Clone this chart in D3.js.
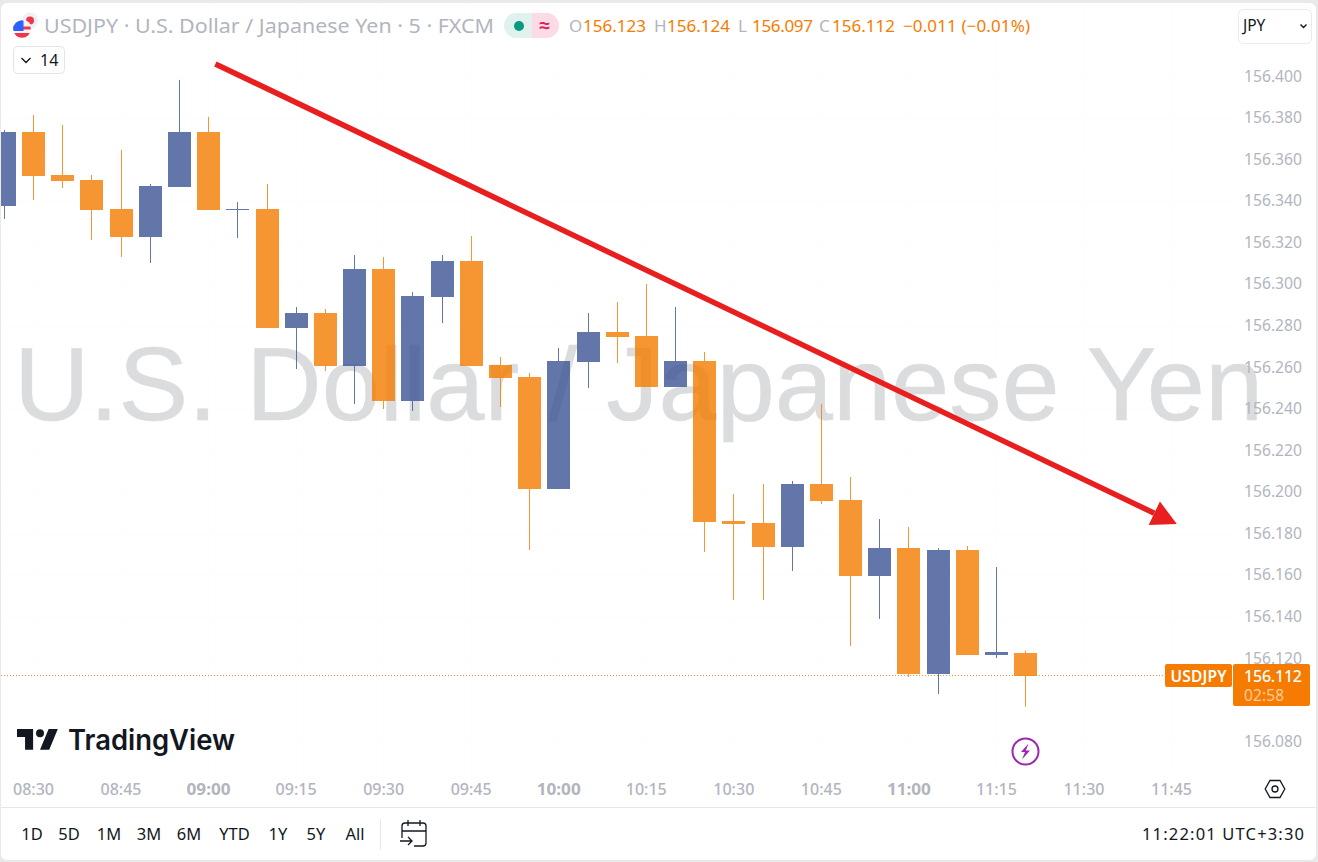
<!DOCTYPE html>
<html><head><meta charset="utf-8">
<script src="https://cdn.jsdelivr.net/npm/d3@7/dist/d3.min.js"></script>
<style>
html,body{margin:0;padding:0;background:#e9e9e9;overflow:hidden}
svg{display:block}
text{font-family:"Noto Sans",sans-serif}
</style></head><body><svg id="c" width="1318" height="862"></svg>
<script>
// ---- data -----------------------------------------------------------------
const opens =[156.3379,156.3735,156.3528,156.3504,156.3365,156.3230,156.3471,156.3735,156.3360,156.3365,156.2792,156.2864,156.2609,156.3076,156.2441,156.2941,156.3115,156.2614,156.2556,156.2017,156.2628,156.2773,156.2754,156.2508,156.2633,156.1863,156.1854,156.1738,156.2041,156.1964,156.1599,156.1733,156.1127,156.1724,156.1218,156.123];
const closes=[156.3735,156.3524,156.3500,156.3360,156.3230,156.3475,156.3735,156.3360,156.3365,156.2792,156.2864,156.2609,156.3076,156.2441,156.2946,156.3115,156.2609,156.2551,156.2017,156.2633,156.2773,156.2749,156.2508,156.2633,156.1859,156.1849,156.1738,156.2041,156.1960,156.1599,156.1733,156.1127,156.1724,156.1218,156.1233,156.112];
const highs =[156.3745,156.3817,156.3769,156.3528,156.3649,156.3485,156.3986,156.3808,156.3398,156.3485,156.2893,156.2884,156.3143,156.3134,156.2965,156.3143,156.3235,156.2653,156.2576,156.2696,156.2864,156.2917,156.3004,156.2893,156.2677,156.1993,156.2041,156.2056,156.2426,156.2075,156.1873,156.1834,156.1733,156.1743,156.1642,156.124];
const lows  =[156.3317,156.3408,156.3466,156.3216,156.3134,156.3105,156.3471,156.3360,156.3225,156.2792,156.2595,156.2585,156.2426,156.2402,156.2393,156.2816,156.2609,156.2412,156.1724,156.2017,156.2503,156.2624,156.2508,156.2508,156.1714,156.1483,156.1483,156.1623,156.1945,156.1262,156.1392,156.1113,156.1031,156.1218,156.1204,156.097];
const priceTicks=[156.40,156.38,156.36,156.34,156.32,156.30,156.28,156.26,156.24,156.22,156.20,156.18,156.16,156.14,156.12,156.08];
const timeTickIndex=[1,4,7,10,13,16,19,22,25,28,31,34,37,40];
const timeTickLabels=["08:30","08:45","09:00","09:15","09:30","09:45","10:00","10:15","10:30","10:45","11:00","11:15","11:30","11:45"];
const boldTimeLabels=["09:00","10:00","11:00"];
const arrowFrom=[7.23,156.4063];
const arrowTo=[40.18,156.1849];
const lastPrice=156.112;
const rangeLabels=["1D","5D","1M","3M","6M","YTD","1Y","5Y","All"];
const ohlcLegend=[["O","156.123"],["H","156.124"],["L","156.097"],["C","156.112"]];

// ---- scales ---------------------------------------------------------------
const x=d3.scaleLinear().domain([0,35]).range([4.4,1025.7]);
const y=d3.scaleLinear().domain([156.4,156.08]).range([77,742]);
const ORANGE="#F57C00",BLUE="#3D5495",GREY="#B2B5BE",INK="#131722";
const svg=d3.select("#c");

// card
svg.append("rect").attr("x",1).attr("y",3).attr("width",1315).attr("height",857).attr("rx",6).attr("fill","#fff");

// grid (very faint)
const grid=svg.append("g").attr("stroke","#fdfdfd");
grid.selectAll("line.h").data(priceTicks).join("line").attr("x1",1).attr("x2",1232).attr("y1",d=>y(d)).attr("y2",d=>y(d));
grid.selectAll("line.v").data(timeTickIndex).join("line").attr("x1",d=>x(d)).attr("x2",d=>x(d)).attr("y1",4).attr("y2",775);

// watermark
svg.append("text").attr("x",14).attr("y",420)
 .style("font-family","'Liberation Sans',sans-serif").style("font-size","104.5px").attr("fill","#DBDCDE").attr("stroke","#DBDCDE").attr("stroke-width",0.6).text("U.S. Dollar / Japanese Yen");

// candles
const idx=d3.range(opens.length);
const chart=svg.append("g").attr("clip-path","url(#plot)");
svg.append("clipPath").attr("id","plot").append("rect").attr("x",1).attr("y",3).attr("width",1232).attr("height",800);
const col=i=>closes[i]>=opens[i]?BLUE:ORANGE;
const candle=chart.selectAll("g.k").data(idx).join("g").attr("class","k").attr("opacity",0.8);
candle.append("rect").attr("x",i=>Math.floor(x(i))).attr("width",1).attr("y",i=>y(highs[i])).attr("height",i=>y(lows[i])-y(highs[i])).attr("fill",col);
candle.append("rect").attr("x",i=>Math.floor(x(i))-11).attr("width",23)
 .attr("y",i=>Math.round(y(Math.max(opens[i],closes[i])))).attr("height",i=>Math.max(1,Math.round(Math.abs(y(opens[i])-y(closes[i]))))).attr("fill",col);

// last price line
svg.append("line").attr("x1",1).attr("x2",1165).attr("y1",Math.floor(y(lastPrice))+.5).attr("y2",Math.floor(y(lastPrice))+.5)
 .attr("stroke",ORANGE).attr("stroke-dasharray","1 2").attr("stroke-width",1).attr("opacity",.8);

// arrow
{
 const p0=[x(arrowFrom[0]),y(arrowFrom[1])],p1=[x(arrowTo[0]),y(arrowTo[1])];
 const L=Math.hypot(p1[0]-p0[0],p1[1]-p0[1]),ux=(p1[0]-p0[0])/L,uy=(p1[1]-p0[1])/L;
 const bx=p1[0]-ux*25,by=p1[1]-uy*25;
 svg.append("line").attr("x1",p0[0]).attr("y1",p0[1]).attr("x2",bx).attr("y2",by).attr("stroke","#E91E1E").attr("stroke-width",5.5);
 svg.append("path").attr("fill","#E91E1E").attr("d",d3.line()([p1,[bx-uy*13,by+ux*13],[bx+uy*13,by-ux*13]])+"Z");
}

// price axis
const yAxis=svg.append("g").attr("transform","translate(1244,-1)")
 .call(d3.axisRight(y).tickValues(priceTicks).tickSize(0).tickPadding(0).tickFormat(d3.format(".3f")));
yAxis.select(".domain").remove();
yAxis.selectAll("text").attr("fill",GREY).style("font-size","16px").style("font-family","'Noto Sans',sans-serif")
 .attr("textLength",58).attr("lengthAdjust","spacingAndGlyphs");

// time axis
const xAxis=svg.append("g").attr("transform","translate(-0.6,783)")
 .call(d3.axisBottom(x).tickValues(timeTickIndex).tickSize(0).tickPadding(0).tickFormat((d,i)=>timeTickLabels[i]));
xAxis.select(".domain").remove();
xAxis.selectAll("text").attr("fill",GREY).attr("dy","0.72em").style("font-size","16px").style("font-family","'Noto Sans',sans-serif")
 .style("font-weight",function(){return boldTimeLabels.includes(this.textContent)?700:500})
 .attr("textLength",function(){return boldTimeLabels.includes(this.textContent)?44:41}).attr("lengthAdjust","spacingAndGlyphs");

// price label boxes
svg.append("rect").attr("x",1165).attr("y",664).attr("width",67).attr("height",23).attr("rx",2).attr("fill",ORANGE);
svg.append("rect").attr("x",1233).attr("y",664).attr("width",77).attr("height",42).attr("rx",2).attr("fill",ORANGE);
svg.append("text").attr("x",1198.5).attr("y",681.5).attr("text-anchor","middle").attr("fill","#fff").style("font-size","15.5px").style("font-weight",600).attr("textLength",56).text("USDJPY");
svg.append("text").attr("x",1273).attr("y",681.5).attr("text-anchor","middle").attr("fill","#fff").style("font-size","16px").style("font-weight",500).attr("textLength",58).text(d3.format(".3f")(lastPrice));
svg.append("text").attr("x",1264).attr("y",701).attr("text-anchor","middle").attr("fill","#fff").attr("fill-opacity",.62).style("font-size","15.5px").attr("textLength",40).text("02:58");

// separators
svg.append("line").attr("x1",1).attr("x2",1316).attr("y1",807.5).attr("y2",807.5).attr("stroke","#E6E7EA");
svg.append("line").attr("x1",380.5).attr("x2",380.5).attr("y1",819).attr("y2",850).attr("stroke","#E6E7EA");

// header legend
svg.append("text").attr("x",44).attr("y",33).attr("fill",GREY).style("font-size","20px").attr("textLength",450).attr("lengthAdjust","spacingAndGlyphs").text("USDJPY · U.S. Dollar / Japanese Yen · 5 · FXCM");

// flag
const flag=svg.append("g");
flag.append("circle").attr("cx",30).attr("cy",20.5).attr("r",8).attr("fill","#eef0f6");
flag.append("circle").attr("cx",30).attr("cy",20.5).attr("r",4).attr("fill","#f23645");
flag.append("circle").attr("cx",22).attr("cy",29).attr("r",9.5).attr("fill","#fff");
svg.append("clipPath").attr("id","us").append("circle").attr("cx",22).attr("cy",29).attr("r",8.8);
const us=flag.append("g").attr("clip-path","url(#us)");
us.append("rect").attr("x",13).attr("y",20).attr("width",18).attr("height",18).attr("fill","#f0f3fa");
us.append("rect").attr("x",13).attr("y",26.5).attr("width",18).attr("height",3).attr("fill","#f23645");
us.append("rect").attr("x",13).attr("y",33).attr("width",18).attr("height",6).attr("fill","#f23645");
us.append("rect").attr("x",13).attr("y",20).attr("width",10.5).attr("height",11).attr("fill","#2962ff");

// status pill
svg.append("path").attr("fill","#DFF2EE").attr("d","M531.5 13H516.5a12.5 12.5 0 0 0 0 25H531.5Z");
svg.append("path").attr("fill","#FBDCE6").attr("d","M531.5 13H546.5a12.5 12.5 0 0 1 0 25H531.5Z");
svg.append("circle").attr("cx",519).attr("cy",26).attr("r",5).attr("fill","#089981");
svg.append("text").attr("x",544.5).attr("y",32).attr("text-anchor","middle").attr("fill","#E0215F").style("font-size","19px").style("font-weight",700).text("≈");

// OHLC
const ohlcPos=[[569,583],[654,667],[738,752],[819,832]];
ohlcLegend.forEach((d,i)=>{
 svg.append("text").attr("x",ohlcPos[i][0]).attr("y",32).attr("fill",GREY).style("font-size","17px").text(d[0]);
 svg.append("text").attr("x",ohlcPos[i][1]).attr("y",32).attr("fill",ORANGE).style("font-size","17px").attr("textLength",i==2?61:63).text(d[1]);
});
svg.append("text").attr("x",903).attr("y",32).attr("fill",ORANGE).style("font-size","17px").attr("textLength",127).text("−0.011 (−0.01%)");

// "14" collapsed box
svg.append("rect").attr("x",13.5).attr("y",46.5).attr("width",51).attr("height",27).attr("rx",4).attr("fill","#fff").attr("stroke","#E0E3EB");
svg.append("path").attr("d","M21.5 58l4.5 4.5 4.5-4.5").attr("fill","none").attr("stroke",INK).attr("stroke-width",1.4);
svg.append("text").attr("x",40).attr("y",66).attr("fill",INK).style("font-size","16px").text("14");

// JPY box
svg.append("rect").attr("x",1238.5).attr("y",9.5).attr("width",73).attr("height",34).attr("rx",5).attr("fill","#fff").attr("stroke","#E8EAEE");
svg.append("text").attr("x",1243).attr("y",31).attr("fill",INK).style("font-size","15.5px").text("JPY");
svg.append("path").attr("d","M1300.5 24.5l3 3 3-3").attr("fill","none").attr("stroke",INK).attr("stroke-width",1.4);

// logo
svg.append("path").attr("transform","translate(17,721) scale(1.15)").attr("fill","#131722")
 .attr("d","M14 25H7V14H0V7h14v18zM28 25h-8l7.5-18h8L28 25z");
svg.append("circle").attr("cx",40).attr("cy",733.2).attr("r",4).attr("fill","#131722");
svg.append("text").attr("x",68).attr("y",750).attr("fill","#131722").style("font-family","Inter,sans-serif").style("font-size","28px").style("font-weight",600).attr("textLength",167).attr("lengthAdjust","spacingAndGlyphs").text("TradingView");

// lightning
svg.append("circle").attr("cx",1025.5).attr("cy",751.5).attr("r",13).attr("fill","#fff").attr("stroke","#9C27B0").attr("stroke-width",2);
svg.append("path").attr("fill","#9C27B0").attr("d","M1028.5 743.5l-7.5 8.5h4l-3 7.5 8-9h-4.2z");

// hexagon settings
svg.append("path").attr("fill","none").attr("stroke",INK).attr("stroke-width",1.3).attr("d","M1270 780.5h10l4.8 8.5-4.8 8.5h-10l-4.8-8.5z");
svg.append("circle").attr("cx",1275).attr("cy",789).attr("r",3).attr("fill","none").attr("stroke",INK).attr("stroke-width",1.3);

// range buttons
const rangeX=[32,69,109,149,189,234.5,278,316,355];
svg.selectAll("text.r").data(rangeLabels).join("text").attr("class","r").attr("x",(d,i)=>rangeX[i]).attr("y",840).attr("text-anchor","middle").attr("fill",INK).style("font-size","16.5px").text(d=>d);

// calendar icon
svg.append("path").attr("fill","none").attr("stroke",INK).attr("stroke-width",1.3)
 .attr("d","M402 838V826a3 3 0 0 1 3-3h18a3 3 0 0 1 3 3v17a3 3 0 0 1-3 3h-9M402 831h24M408 820v6M420 820v6M400 841h12M408 837l4 4-4 4");

// clock
svg.append("text").attr("x",1304).attr("y",840).attr("text-anchor","end").attr("fill",INK).style("font-size","16.5px").attr("textLength",162).text("11:22:01 UTC+3:30");
</script></body></html>
